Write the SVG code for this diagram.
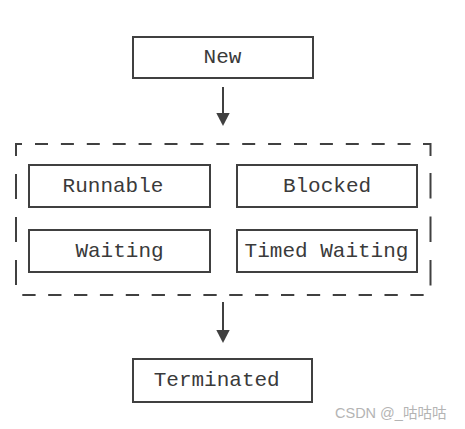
<svg xmlns="http://www.w3.org/2000/svg" width="465" height="429" viewBox="0 0 465 429">
<defs>
<style>
.box{fill:#fff;stroke:#404040;stroke-width:2}
.lbl{font-family:"Liberation Mono","DejaVu Sans Mono",monospace;font-size:21px;fill:#3a3a3a;text-anchor:middle}
.dash{fill:none;stroke:#404040;stroke-width:2}
.edge{fill:none;stroke:#404040;stroke-width:2}
.wm{font-family:"Liberation Sans","Noto Sans CJK SC",sans-serif;font-size:14.5px;fill:#b4b4b4}
</style>
<marker id="ah" markerWidth="14" markerHeight="14" refX="0" refY="0" orient="auto" markerUnits="userSpaceOnUse" viewBox="0 -7 14 14">
<path d="M0,-6.7 L13,0 L0,6.7 Z" fill="#404040"/>
</marker>
</defs>
<rect width="465" height="429" fill="#fff"/>
<g id="container">
<path class="dash" d="M15,144 H22 M16,143 V156"/>
<path class="dash" d="M35,144 H423" stroke-dasharray="13 12.9"/>
<path class="dash" d="M423,144 H431 M430.5,143 V156"/>
<path class="dash" d="M16,174 V286" stroke-dasharray="25 18"/>
<path class="dash" d="M430.5,173 V286" stroke-dasharray="25.5 18"/>
<path class="dash" d="M22.3,295 H424" stroke-dasharray="13.3 12.57"/>
</g>
<g id="new">
<rect class="box" x="133" y="37" width="180" height="41"/>
<text class="lbl" x="222.5" y="62.5">New</text>
</g>
<g id="runnable">
<rect class="box" x="29" y="165" width="181" height="42"/>
<text class="lbl" x="113" y="191.7">Runnable</text>
</g>
<g id="blocked">
<rect class="box" x="237" y="165" width="180" height="42"/>
<text class="lbl" x="327" y="191.7">Blocked</text>
</g>
<g id="waiting">
<rect class="box" x="29" y="230" width="181" height="42"/>
<text class="lbl" x="119.5" y="256.5">Waiting</text>
</g>
<g id="timed-waiting">
<rect class="box" x="237" y="230" width="180" height="42"/>
<text class="lbl" x="326.5" y="256.5">Timed Waiting</text>
</g>
<g id="terminated">
<rect class="box" x="133" y="359" width="179" height="43"/>
<text class="lbl" x="216.7" y="386">Terminated</text>
</g>
<g id="connectors">
<line class="edge" x1="223" y1="87" x2="223" y2="113" marker-end="url(#ah)"/>
<line class="edge" x1="223" y1="302" x2="223" y2="330" marker-end="url(#ah)"/>
</g>
<text class="wm" x="335" y="418">CSDN @_咕咕咕</text>
</svg>
